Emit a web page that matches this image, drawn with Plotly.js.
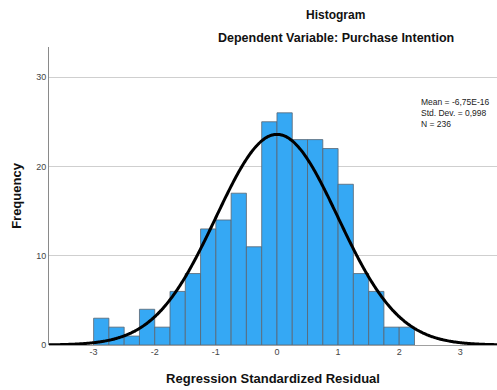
<!DOCTYPE html>
<html>
<head>
<meta charset="utf-8">
<script src="https://cdn.plot.ly/plotly-3.0.1.min.js"></script>
<style>
  html, body { margin: 0; padding: 0; background: #fff; }
  #chart { width: 497px; height: 390px; }
</style>
</head>
<body>
<div id="chart"></div>
<script>
// Residual histogram: bin centres (width 0.25) and counts per bin
const binCenters = [-2.875, -2.625, -2.375, -2.125, -1.875, -1.625, -1.375, -1.125,
                    -0.875, -0.625, -0.375, -0.125, 0.125, 0.375, 0.625, 0.875,
                    1.125, 1.375, 1.625, 1.875, 2.125];
const counts = [3, 2, 1, 4, 2, 6, 8, 13, 14, 17, 11, 25, 26, 23, 23, 22, 18, 8, 6, 2, 2];
const binWidth = [0.25];

// Summary statistics printed in the corner
const statLabels = ["Mean = -6,75E-16", "Std. Dev. = 0,998", "N = 236"];
const statValues = [-6.75e-16, 0.998, 236];

const xTicks = [-3, -2, -1, 0, 1, 2, 3];
const yTicks = [0, 10, 20, 30];

// Normal curve scaled to the histogram (N * bin width * density)
const mean = statValues[0], sd = statValues[1], n = statValues[2];
const curveX = [], curveY = [];
for (let x = -3.8; x <= 3.7; x += 0.02) {
  const z = (x - mean) / sd;
  curveX.push(x);
  curveY.push(n * binWidth[0] * Math.exp(-0.5 * z * z) / (sd * Math.sqrt(2 * Math.PI)));
}

const font = "Liberation Sans, Arial, sans-serif";

const traces = [
  {
    type: "bar",
    x: binCenters,
    y: counts,
    width: binCenters.map(() => binWidth[0]),
    marker: { color: "#35a8f4", line: { color: "#5a6570", width: 0.8 } },
    hoverinfo: "x+y"
  },
  {
    type: "scatter",
    mode: "lines",
    x: curveX,
    y: curveY,
    line: { color: "#000000", width: 3, shape: "spline" },
    hoverinfo: "skip"
  }
];

const layout = {
  width: 497,
  height: 390,
  margin: { l: 49, r: 0, t: 47, b: 45 },
  paper_bgcolor: "#ffffff",
  plot_bgcolor: "#ffffff",
  showlegend: false,
  bargap: 0,
  font: { family: font, color: "#222" },
  xaxis: {
    range: [-3.73, 3.6],
    tickvals: xTicks,
    ticktext: xTicks.map(String),
    ticks: "",
    showgrid: false,
    zeroline: false,
    showline: false,
    tickfont: { size: 9, color: "#444", family: font },
    title: { text: "Regression Standardized Residual", font: { size: 13, color: "#111", family: font, weight: "bold" }, standoff: 17 }
  },
  yaxis: {
    range: [0, 33.37],
    tickvals: yTicks,
    ticktext: yTicks.map(String),
    ticks: "",
    showgrid: true,
    gridcolor: "#cfcfcf",
    gridwidth: 1,
    zeroline: true,
    zerolinecolor: "#a0a0a0",
    zerolinewidth: 1,
    showline: true,
    linecolor: "#8a8a8a",
    linewidth: 1,
    tickfont: { size: 9, color: "#444", family: font },
    title: { text: "Frequency", font: { size: 13, color: "#111", family: font, weight: "bold" }, standoff: 11 }
  },
  annotations: [
    {
      xref: "paper", yref: "paper", x: 0.64, y: 1.0, yanchor: "bottom", xanchor: "center",
      yshift: 23, text: "Histogram", showarrow: false,
      font: { size: 12, color: "#111", family: font, weight: "bold" }
    },
    {
      xref: "paper", yref: "paper", x: 0.64, y: 1.0, yanchor: "bottom", xanchor: "center",
      yshift: 0, text: "Dependent Variable: Purchase Intention", showarrow: false,
      font: { size: 12.5, color: "#111", family: font, weight: "bold" }
    },
    {
      xref: "paper", yref: "paper", x: 0.826, y: 0.84, xanchor: "left", yanchor: "top",
      align: "left", showarrow: false,
      text: statLabels.join("<br>"),
      font: { size: 8.5, color: "#222", family: font }
    }
  ]
};

Plotly.newPlot("chart", traces, layout, { displayModeBar: false, staticPlot: true });
</script>
</body>
</html>
